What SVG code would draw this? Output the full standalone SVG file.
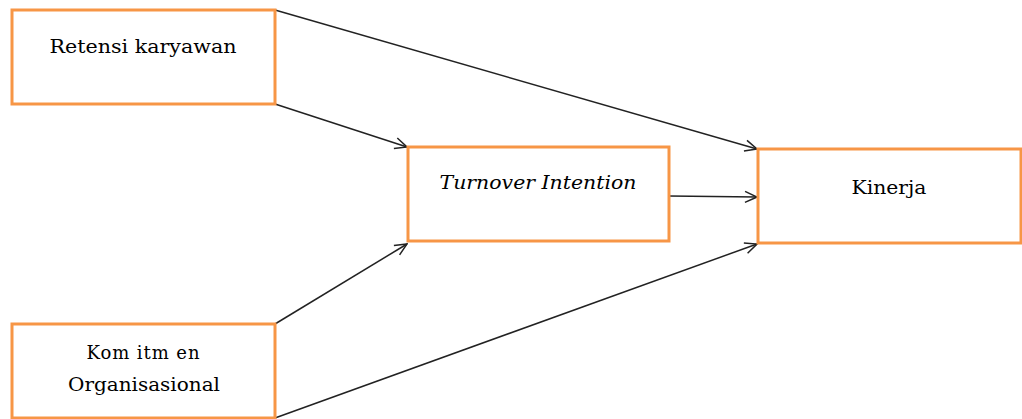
<svg xmlns="http://www.w3.org/2000/svg" width="1022" height="419" viewBox="0 0 1022 419">
<style>
.box{fill:#fff;stroke:#f79646;stroke-width:3}
.lbl{font-family:"DejaVu Serif","Liberation Serif",serif;font-size:18px;fill:#000;text-anchor:middle}
.it{font-style:italic}
.c{stroke:#222;stroke-width:1.5;fill:none;marker-end:url(#ah)}
</style>
<defs>
<marker id="ah" viewBox="0 0 14 14" refX="13" refY="7" markerWidth="14" markerHeight="14" markerUnits="userSpaceOnUse" orient="auto">
<path d="M1,1.5 L13,7 L1,12.5" fill="none" stroke="#222" stroke-width="1.5"/>
</marker>
</defs>
<rect width="1022" height="419" fill="#fff"/>
<g id="connectors">
<line class="c" x1="275" y1="10" x2="757" y2="149"/>
<line class="c" x1="275" y1="104" x2="407" y2="147"/>
<line class="c" x1="669" y1="196" x2="757" y2="197"/>
<line class="c" x1="275" y1="324" x2="407" y2="244"/>
<line class="c" x1="275" y1="418" x2="757" y2="244"/>
</g>
<g id="retensi">
<rect class="box" x="12" y="10" width="263" height="94"/>
<text class="lbl" x="143" y="53" textLength="187" lengthAdjust="spacingAndGlyphs">Retensi karyawan</text>
</g>
<g id="turnover">
<rect class="box" x="408" y="147" width="261" height="94"/>
<text class="lbl it" x="538" y="189" textLength="197" lengthAdjust="spacingAndGlyphs">Turnover Intention</text>
</g>
<g id="kinerja">
<rect class="box" x="758" y="149" width="263" height="94"/>
<text class="lbl" x="889" y="194" textLength="75" lengthAdjust="spacingAndGlyphs">Kinerja</text>
</g>
<g id="komitmen">
<rect class="box" x="12" y="324" width="263" height="94"/>
<text class="lbl" x="143" y="359" textLength="113" lengthAdjust="spacing">Kom itm en</text>
<text class="lbl" x="144" y="391" textLength="152" lengthAdjust="spacingAndGlyphs">Organisasional</text>
</g>
</svg>
